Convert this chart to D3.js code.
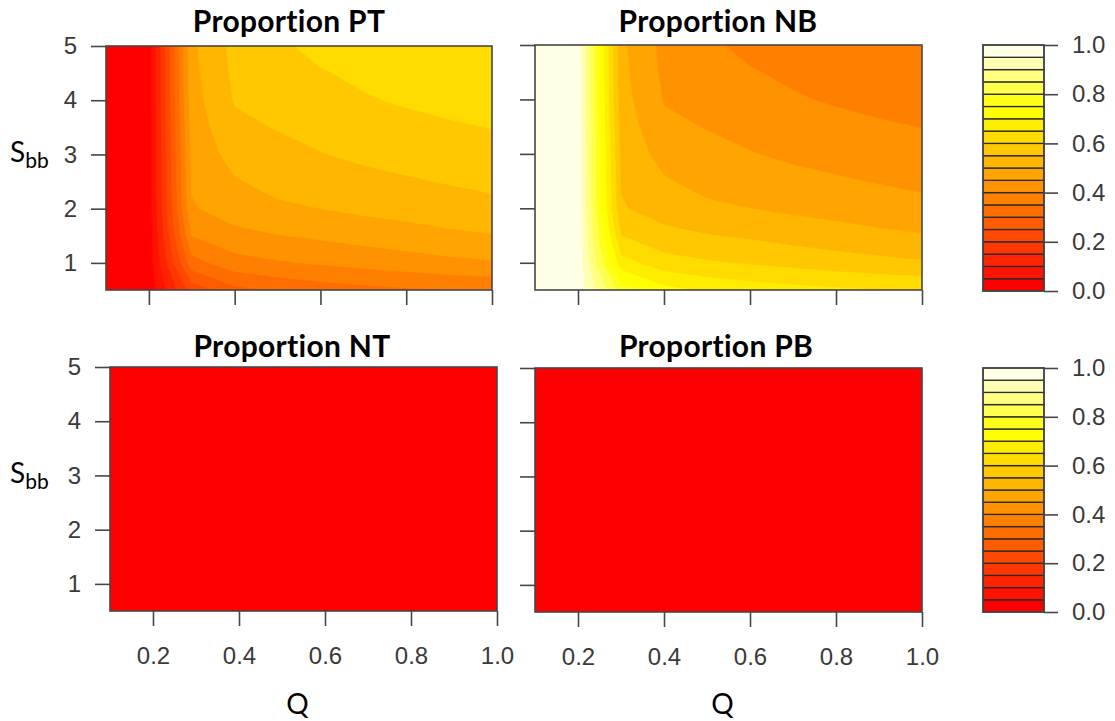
<!DOCTYPE html>
<html>
<head>
<meta charset="utf-8">
<script src="https://cdn.jsdelivr.net/npm/d3@7"></script>
<style>
  body { margin: 0; background: #ffffff; }
  svg { display: block; }
</style>
</head>
<body>
<svg id="chart" width="1115" height="721"></svg>
<script>
// Grid of the model runs: Q along columns, S_bb along rows (lowest S_bb first)
const qValues = [0.1, 0.2, 0.3, 0.4, 0.5, 0.6, 0.7, 0.8, 0.9, 1.0];
const sbbValues = [0.5, 1.0, 1.5, 2.0, 2.5, 3.0, 3.5, 4.0, 4.5, 5.0];

const propPT = [
  [0.00, 0.02, 0.22,  0.285, 0.310, 0.325, 0.335, 0.343, 0.350, 0.355],
  [0.00, 0.02, 0.33,  0.38,  0.395, 0.405, 0.416, 0.427, 0.437, 0.445],
  [0.00, 0.02, 0.40,  0.435, 0.448, 0.458, 0.470, 0.480, 0.490, 0.497],
  [0.00, 0.02, 0.445, 0.475, 0.490, 0.500, 0.510, 0.518, 0.527, 0.535],
  [0.00, 0.02, 0.455, 0.495, 0.518, 0.530, 0.538, 0.545, 0.553, 0.562],
  [0.00, 0.02, 0.46,  0.52,  0.537, 0.548, 0.558, 0.567, 0.577, 0.585],
  [0.00, 0.02, 0.47,  0.54,  0.552, 0.565, 0.577, 0.587, 0.595, 0.601],
  [0.00, 0.02, 0.48,  0.553, 0.567, 0.582, 0.596, 0.605, 0.612, 0.618],
  [0.00, 0.02, 0.485, 0.56,  0.578, 0.597, 0.608, 0.617, 0.624, 0.630],
  [0.00, 0.02, 0.49,  0.565, 0.592, 0.612, 0.625, 0.635, 0.642, 0.648]
];

const propNB = [
  [1.00, 0.98, 0.78,  0.715, 0.690, 0.675, 0.665, 0.657, 0.650, 0.645],
  [1.00, 0.98, 0.67,  0.62,  0.605, 0.595, 0.584, 0.573, 0.563, 0.555],
  [1.00, 0.98, 0.60,  0.565, 0.552, 0.542, 0.530, 0.520, 0.510, 0.503],
  [1.00, 0.98, 0.555, 0.525, 0.510, 0.500, 0.490, 0.482, 0.473, 0.465],
  [1.00, 0.98, 0.545, 0.505, 0.482, 0.470, 0.462, 0.455, 0.447, 0.438],
  [1.00, 0.98, 0.54,  0.48,  0.463, 0.452, 0.442, 0.433, 0.423, 0.415],
  [1.00, 0.98, 0.53,  0.46,  0.448, 0.435, 0.423, 0.413, 0.405, 0.399],
  [1.00, 0.98, 0.52,  0.447, 0.433, 0.418, 0.404, 0.395, 0.388, 0.382],
  [1.00, 0.98, 0.515, 0.44,  0.422, 0.403, 0.392, 0.383, 0.376, 0.370],
  [1.00, 0.98, 0.51,  0.435, 0.408, 0.388, 0.375, 0.365, 0.358, 0.352]
];

const propNT = [
  [0, 0, 0, 0, 0, 0, 0, 0, 0, 0],
  [0, 0, 0, 0, 0, 0, 0, 0, 0, 0],
  [0, 0, 0, 0, 0, 0, 0, 0, 0, 0],
  [0, 0, 0, 0, 0, 0, 0, 0, 0, 0],
  [0, 0, 0, 0, 0, 0, 0, 0, 0, 0],
  [0, 0, 0, 0, 0, 0, 0, 0, 0, 0],
  [0, 0, 0, 0, 0, 0, 0, 0, 0, 0],
  [0, 0, 0, 0, 0, 0, 0, 0, 0, 0],
  [0, 0, 0, 0, 0, 0, 0, 0, 0, 0],
  [0, 0, 0, 0, 0, 0, 0, 0, 0, 0]
];

const propPB = [
  [0, 0, 0, 0, 0, 0, 0, 0, 0, 0],
  [0, 0, 0, 0, 0, 0, 0, 0, 0, 0],
  [0, 0, 0, 0, 0, 0, 0, 0, 0, 0],
  [0, 0, 0, 0, 0, 0, 0, 0, 0, 0],
  [0, 0, 0, 0, 0, 0, 0, 0, 0, 0],
  [0, 0, 0, 0, 0, 0, 0, 0, 0, 0],
  [0, 0, 0, 0, 0, 0, 0, 0, 0, 0],
  [0, 0, 0, 0, 0, 0, 0, 0, 0, 0],
  [0, 0, 0, 0, 0, 0, 0, 0, 0, 0],
  [0, 0, 0, 0, 0, 0, 0, 0, 0, 0]
];

// Contour levels and the heat palette (20 bands, red -> yellow -> cream)
const levels = [0, 0.05, 0.1, 0.15, 0.2, 0.25, 0.3, 0.35, 0.4, 0.45, 0.5,
                0.55, 0.6, 0.65, 0.7, 0.75, 0.8, 0.85, 0.9, 0.95, 1.0];
const heatColors = ["#FF0000", "#FF1200", "#FF2400", "#FF3700", "#FF4900",
                    "#FF5B00", "#FF6D00", "#FF8000", "#FF9200", "#FFA400",
                    "#FFB600", "#FFC800", "#FFDB00", "#FFED00", "#FFFF00",
                    "#FFFF1A", "#FFFF4D", "#FFFF80", "#FFFFB3", "#FFFFE6"];

const qTicks = [0.2, 0.4, 0.6, 0.8, 1.0];
const sbbTicks = [1, 2, 3, 4, 5];
const keyTicks = [0, 0.2, 0.4, 0.6, 0.8, 1.0];

const titles = ["Proportion PT", "Proportion NB", "Proportion NT", "Proportion PB"];

// ---- layout ----
const svg = d3.select("#chart");
const TICK_FONT = "'Liberation Sans', Arial, sans-serif";
const LABEL_FONT = "Lato, 'Open Sans', sans-serif";
const FRAME = "#464646";

const panels = [
  { title: titles[0], z: propPT, x0: 106, x1: 492, y0: 46,  y1: 290, yLab: true,  xLab: false, tx: 289, ty: 32 },
  { title: titles[1], z: propNB, x0: 535, x1: 922, y0: 45,  y1: 290, yLab: false, xLab: false, tx: 718, ty: 32 },
  { title: titles[2], z: propNT, x0: 110, x1: 497, y0: 367, y1: 611, yLab: true,  xLab: true,  tx: 292, ty: 357 },
  { title: titles[3], z: propPB, x0: 535, x1: 922, y0: 368, y1: 612, yLab: false, xLab: true,  tx: 716, ty: 357 }
];
const keys = [
  { x0: 983, x1: 1044, y0: 45,  y1: 291 },
  { x0: 983, x1: 1044, y0: 368, y1: 612 }
];

const dq = qValues[1] - qValues[0];
const ds = sbbValues[1] - sbbValues[0];
const bandThresholds = levels.slice(0, -1);

panels.forEach((p, idx) => {
  const x = d3.scaleLinear().domain([qValues[0], qValues[qValues.length - 1]]).range([p.x0, p.x1]);
  const y = d3.scaleLinear().domain([sbbValues[0], sbbValues[sbbValues.length - 1]]).range([p.y1, p.y0]);

  const g = svg.append("g");
  const clipId = "clip" + idx;
  g.append("clipPath").attr("id", clipId)
    .append("rect").attr("x", p.x0).attr("y", p.y0)
    .attr("width", p.x1 - p.x0).attr("height", p.y1 - p.y0);

  // filled contour bands from the grid values
  const values = p.z.flat();
  const contours = d3.contours()
    .size([qValues.length, sbbValues.length])
    .thresholds(bandThresholds)(values);

  const proj = d3.geoTransform({
    point: function (cx, cy) {
      const q = qValues[0] + (cx - 0.5) * dq;
      const s = sbbValues[0] + (cy - 0.5) * ds;
      this.stream.point(x(q), y(s));
    }
  });
  const path = d3.geoPath(proj);

  g.append("g").attr("clip-path", `url(#${clipId})`)
    .selectAll("path").data(contours).join("path")
    .attr("d", path)
    .attr("fill", (d, i) => heatColors[i])
    .attr("stroke", (d, i) => heatColors[i])
    .attr("stroke-width", 0.6);

  // axes
  const yAxis = d3.axisLeft(y).tickValues(sbbTicks).tickSize(15).tickPadding(14)
    .tickFormat(p.yLab ? d3.format("d") : () => "");
  const xAxis = d3.axisBottom(x).tickValues(qTicks).tickSize(15).tickPadding(21)
    .tickFormat(p.xLab ? d3.format(".1f") : () => "");

  const ya = g.append("g").attr("transform", `translate(${p.x0},0)`).call(yAxis);
  const xa = g.append("g").attr("transform", `translate(0,${p.y1})`).call(xAxis);
  [ya, xa].forEach(a => {
    a.select(".domain").remove();
    a.selectAll(".tick line").attr("stroke", FRAME).attr("stroke-width", 1.6);
    a.selectAll(".tick text").attr("fill", "#3a3a3a")
      .style("font-family", TICK_FONT).style("font-size", "24px");
  });

  // plot frame
  g.append("rect").attr("x", p.x0).attr("y", p.y0)
    .attr("width", p.x1 - p.x0).attr("height", p.y1 - p.y0)
    .attr("fill", "none").attr("stroke", FRAME).attr("stroke-width", 1.6);

  // title
  g.append("text").attr("x", p.tx).attr("y", p.ty).attr("text-anchor", "middle")
    .style("font-family", LABEL_FONT).style("font-weight", "bold").style("font-size", "30px")
    .style("letter-spacing", "0.3px")
    .attr("fill", "#000").text(p.title);

  // axis titles
  if (p.yLab) {
    const yl = g.append("text").attr("x", 10).attr("y", y(3) + 8)
      .style("font-family", LABEL_FONT).style("font-size", "28px").attr("fill", "#000");
    yl.append("tspan").text("S");
    yl.append("tspan").attr("dy", 6).style("font-size", "21px").text("bb");
  }
  if (p.xLab) {
    g.append("text").attr("x", (p.x0 + p.x1) / 2 - 6).attr("y", 714).attr("text-anchor", "middle")
      .style("font-family", LABEL_FONT).style("font-size", "28px").attr("fill", "#000").text("Q");
  }
});

// colour keys
keys.forEach(k => {
  const ky = d3.scaleLinear().domain([levels[0], levels[levels.length - 1]]).range([k.y1, k.y0]);
  const g = svg.append("g");
  g.selectAll("rect").data(heatColors).join("rect")
    .attr("x", k.x0)
    .attr("y", (c, i) => ky(levels[i + 1]))
    .attr("width", k.x1 - k.x0)
    .attr("height", (c, i) => ky(levels[i]) - ky(levels[i + 1]))
    .attr("fill", c => c)
    .attr("stroke", "#2a2a2a").attr("stroke-width", 1.3);

  g.append("rect").attr("x", k.x0).attr("y", k.y0)
    .attr("width", k.x1 - k.x0).attr("height", k.y1 - k.y0)
    .attr("fill", "none").attr("stroke", FRAME).attr("stroke-width", 1.6);

  const ka = g.append("g").attr("transform", `translate(${k.x1},0)`)
    .call(d3.axisRight(ky).tickValues(keyTicks).tickSize(14).tickPadding(14).tickFormat(d3.format(".1f")));
  ka.select(".domain").remove();
  ka.selectAll(".tick line").attr("stroke", FRAME).attr("stroke-width", 1.6);
  ka.selectAll(".tick text").attr("fill", "#3a3a3a")
    .style("font-family", TICK_FONT).style("font-size", "24px");
});
</script>
</body>
</html>
